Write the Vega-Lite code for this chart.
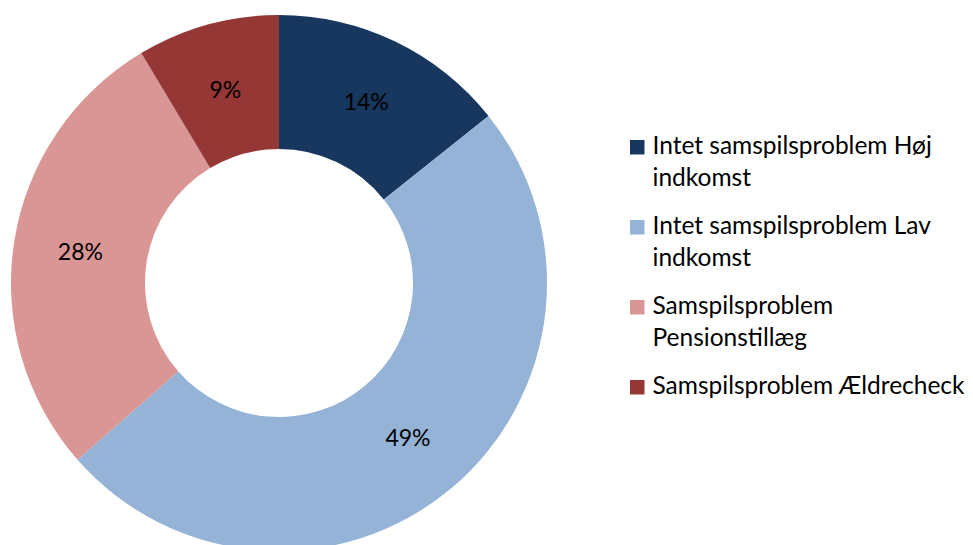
{
  "$schema": "https://vega.github.io/schema/vega-lite/v6.json",
  "width": 558,
  "height": 566,
  "padding": 0,
  "autosize": {"type": "pad"},
  "background": "white",
  "data": {
    "values": [
      {"category": "Intet samspilsproblem Høj indkomst", "share": 0.143, "order": 1},
      {"category": "Intet samspilsproblem Lav indkomst", "share": 0.493, "order": 2},
      {"category": "Samspilsproblem Pensionstillæg", "share": 0.279, "order": 3},
      {"category": "Samspilsproblem Ældrecheck", "share": 0.086, "order": 4}
    ]
  },
  "encoding": {
    "theta": {"field": "share", "type": "quantitative", "stack": true},
    "order": {"field": "order", "type": "quantitative"}
  },
  "layer": [
    {
      "mark": {"type": "arc", "outerRadius": 268, "innerRadius": 134},
      "encoding": {
        "color": {
          "field": "category",
          "type": "nominal",
          "scale": {
            "domain": ["Intet samspilsproblem Høj indkomst", "Intet samspilsproblem Lav indkomst", "Samspilsproblem Pensionstillæg", "Samspilsproblem Ældrecheck"],
            "range": ["#17375E", "#95B3D7", "#D99694", "#953735"]
          },
          "legend": {
            "title": null,
            "orient": "none",
            "legendX": 625,
            "legendY": 135,
            "symbolType": "square",
            "symbolSize": 210,
            "symbolStrokeWidth": 0,
            "labelFont": "Lato",
            "labelFontSize": 24.5,
            "labelColor": "#000000",
            "labelLimit": 400,
            "labelOffset": 3,
            "rowPadding": 23,
            "labelExpr": "datum.label == 'Intet samspilsproblem Høj indkomst' ? ['Intet samspilsproblem Høj', 'indkomst'] : datum.label == 'Intet samspilsproblem Lav indkomst' ? ['Intet samspilsproblem Lav', 'indkomst'] : datum.label == 'Samspilsproblem Pensionstillæg' ? ['Samspilsproblem', 'Pensionstillæg'] : datum.label"
          }
        }
      }
    },
    {
      "mark": {"type": "text", "radius": 201, "dy": 1.5, "font": "Lato", "fontSize": 23, "color": "#000000"},
      "encoding": {
        "text": {"field": "share", "type": "quantitative", "format": ".0%"}
      }
    }
  ],
  "config": {
    "view": {"stroke": null},
    "style": {"guide-label": {"lineHeight": 32}}
  }
}
